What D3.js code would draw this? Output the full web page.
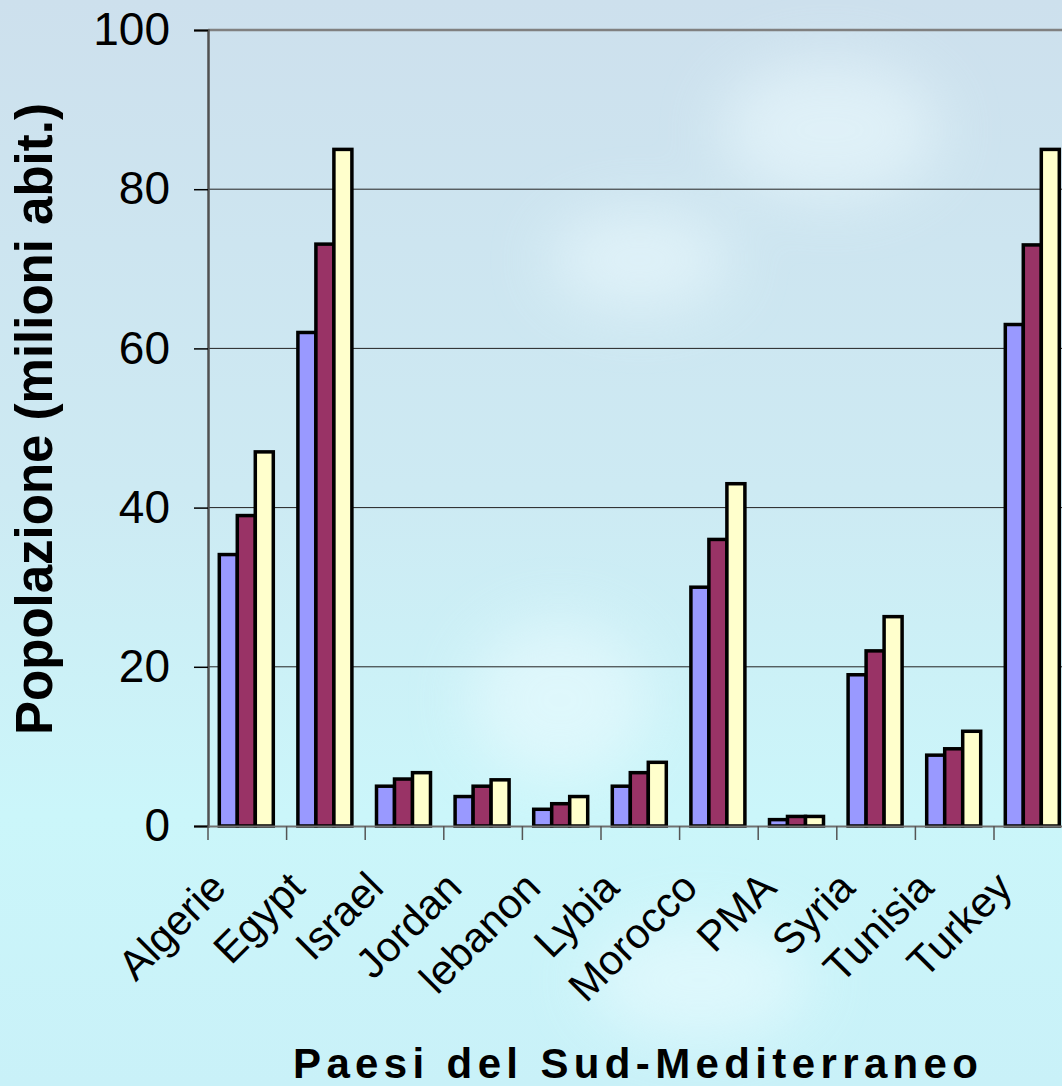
<!DOCTYPE html>
<html>
<head>
<meta charset="utf-8">
<script src="https://cdn.jsdelivr.net/npm/d3@7"></script>
<style>
  body { margin: 0; overflow: hidden; }
  svg { display: block; font-family: "Liberation Sans", Arial, sans-serif; }
</style>
</head>
<body>
<svg width="1062" height="1086"></svg>
<script>
var categories = ["Algerie", "Egypt", "Israel", "Jordan", "lebanon", "Lybia", "Morocco", "PMA", "Syria", "Tunisia", "Turkey"];
var series = ["s1", "s2", "s3"];
var values1 = [34.1, 62, 5, 3.7, 2.1, 5, 30, 0.8, 19, 8.9, 63];
var values2 = [39, 73.1, 5.9, 5, 2.8, 6.7, 36, 1.2, 22, 9.7, 73];
var values3 = [47, 85, 6.7, 5.8, 3.7, 8, 43, 1.2, 26.3, 11.9, 85];
var yTicks = [0, 20, 40, 60, 80, 100];
var colors = ["#9999ff", "#993366", "#ffffcc"];

var svg = d3.select("svg");
var plotLeft = 208, plotTop = 30, plotBottom = 826;
var catW = 78.6;

// background
var defs = svg.append("defs");
var grad = defs.append("linearGradient").attr("id", "bg").attr("x1", 0).attr("y1", 0).attr("x2", 0).attr("y2", 1);
grad.append("stop").attr("offset", "0%").attr("stop-color", "#cde0ed");
grad.append("stop").attr("offset", "45%").attr("stop-color", "#cdeaf3");
grad.append("stop").attr("offset", "75%").attr("stop-color", "#cbf6fa");
grad.append("stop").attr("offset", "100%").attr("stop-color", "#c9f1f8");
var blur = defs.append("filter").attr("id", "blur").attr("x", "-50%").attr("y", "-50%").attr("width", "200%").attr("height", "200%");
blur.append("feGaussianBlur").attr("stdDeviation", 30);

svg.append("rect").attr("width", 1062).attr("height", 1086).attr("fill", "url(#bg)");
var clouds = svg.append("g").attr("filter", "url(#blur)").attr("fill", "#eefcff").attr("opacity", 0.55);
clouds.append("ellipse").attr("cx", 830).attr("cy", 130).attr("rx", 110).attr("ry", 70);
clouds.append("ellipse").attr("cx", 640).attr("cy", 260).attr("rx", 90).attr("ry", 50);
clouds.append("ellipse").attr("cx", 560).attr("cy", 700).attr("rx", 90).attr("ry", 80);
clouds.append("ellipse").attr("cx", 700).attr("cy", 980).attr("rx", 110).attr("ry", 60);

var x = d3.scaleBand().domain(categories).range([plotLeft, plotLeft + catW * categories.length]);
var groupW = 54;
var x1 = d3.scaleBand().domain(series).range([0, groupW]);
var y = d3.scaleLinear().domain([0, 100]).range([plotBottom, plotTop]);

// gridlines
svg.append("g")
  .selectAll("line")
  .data(yTicks.filter(function(d) { return d > 0 && d < 100; }))
  .enter().append("line")
  .attr("x1", plotLeft).attr("x2", 1062)
  .attr("y1", function(d) { return y(d); })
  .attr("y2", function(d) { return y(d); })
  .attr("stroke", "#222").attr("stroke-width", 1);

// top border
svg.append("line").attr("x1", plotLeft).attr("x2", 1062).attr("y1", y(100)).attr("y2", y(100))
  .attr("stroke", "#808080").attr("stroke-width", 2.5);

// bars
var rows = categories.map(function(c, i) {
  return { cat: c, vals: [values1[i], values2[i], values3[i]] };
});
var groups = svg.append("g").selectAll("g")
  .data(rows)
  .enter().append("g")
  .attr("transform", function(d) { return "translate(" + (x(d.cat) + (catW - groupW) / 2 - 1) + ",0)"; });

groups.selectAll("rect")
  .data(function(d) { return d.vals.map(function(v, j) { return { s: series[j], v: v, j: j }; }); })
  .enter().append("rect")
  .attr("x", function(d) { return x1(d.s); })
  .attr("width", x1.bandwidth())
  .attr("y", function(d) { return y(d.v); })
  .attr("height", function(d) { return plotBottom - y(d.v); })
  .attr("fill", function(d) { return colors[d.j]; })
  .attr("stroke", "#000").attr("stroke-width", 3.5);

// y axis
var yAxis = svg.append("g")
  .attr("transform", "translate(" + plotLeft + ",0)")
  .call(d3.axisLeft(y).tickValues(yTicks).tickSize(14).tickPadding(24));
yAxis.select(".domain").attr("stroke", "#505050").attr("stroke-width", 2.5);
yAxis.selectAll(".tick line").attr("stroke", "#000").attr("stroke-width", 1.5);
yAxis.selectAll(".tick text")
  .attr("font-size", 46).attr("fill", "#000")
  .attr("font-family", "Liberation Sans, Arial, sans-serif");

// x axis
var xAxis = svg.append("g")
  .attr("transform", "translate(0," + plotBottom + ")")
  .call(d3.axisBottom(x).tickSize(0).tickFormat(""));
xAxis.select(".domain").attr("stroke", "#707070").attr("stroke-width", 2);
xAxis.selectAll(".tick").remove();

var edges = categories.map(function(c) { return x(c); });
svg.append("g").selectAll("line")
  .data(edges)
  .enter().append("line")
  .attr("x1", function(d) { return d; }).attr("x2", function(d) { return d; })
  .attr("y1", plotBottom).attr("y2", plotBottom + 14)
  .attr("stroke", "#555").attr("stroke-width", 1.5);

svg.append("g").selectAll("text")
  .data(categories)
  .enter().append("text")
  .attr("transform", function(d) {
    return "translate(" + (x(d) + catW / 2 - 19) + "," + (plotBottom + 64) + ") rotate(-45)";
  })
  .attr("text-anchor", "end")
  .attr("font-size", 42)
  .attr("fill", "#000")
  .text(function(d) { return d; });

// titles
svg.append("text")
  .attr("transform", "translate(52,419) rotate(-90)")
  .attr("text-anchor", "middle")
  .attr("font-size", 51)
  .attr("font-weight", "bold")
  .attr("fill", "#000")
  .text("Popolazione (milioni abit.)");

svg.append("text")
  .attr("x", 293).attr("y", 1078)
  .attr("textLength", 685).attr("lengthAdjust", "spacing")
  .attr("font-size", 42)
  .attr("font-weight", "bold")
  .attr("fill", "#000")
  .text("Paesi del Sud-Mediterraneo");
</script>
</body>
</html>
